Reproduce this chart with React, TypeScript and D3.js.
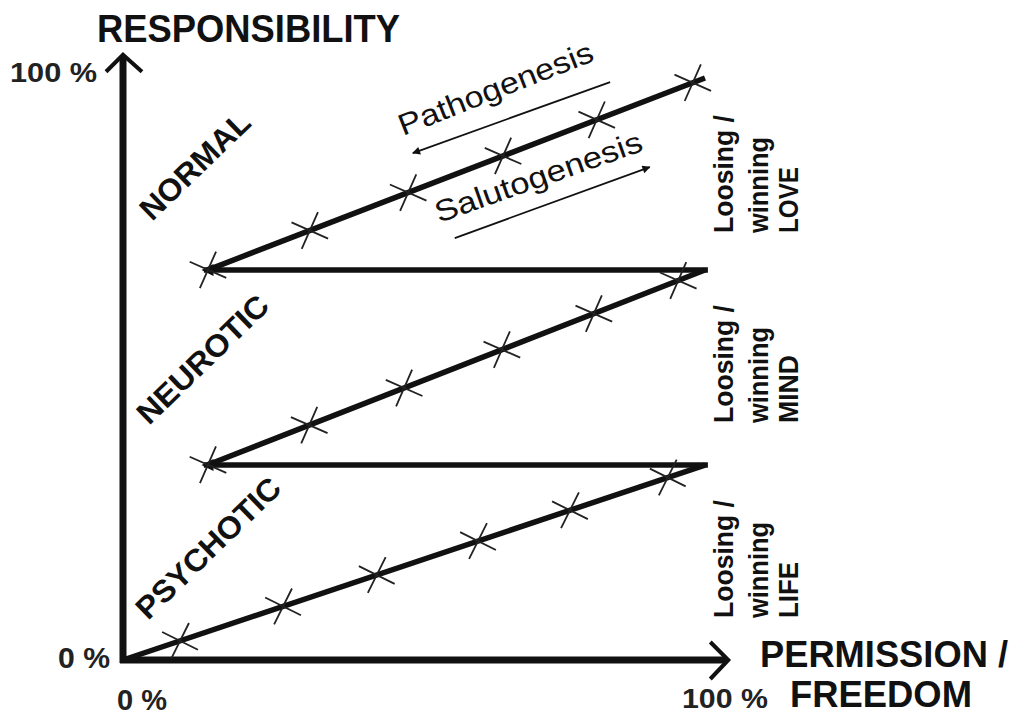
import React from "react";
import * as d3 from "d3";

// ---------- data (percent units) ----------
const LEVELS = [0, 33.5, 67, 100]; // responsibility levels where segments start/end
const DIAG_START_X = [0, 14.5, 14.5]; // permission/freedom where each rising segment starts
const DIAG_END_X = 100;
const CATEGORIES = ["PSYCHOTIC", "NEUROTIC", "NORMAL"];
const DOMAINS = ["LIFE", "MIND", "LOVE"];
const CROSS_X = [
  [9.8, 27.5, 43.6, 61, 76.8, 93.6],
  [14.6, 32, 48.3, 65.1, 80.9, 95.4],
  [14.6, 32.1, 49, 65.3, 81.4, 97.9],
];
const AXIS_TICKS = ["0 %", "100 %"];
const PATHO_ARROW = [[83.7, 99.3], [49.8, 87.1]];
const SALUTO_ARROW = [[57.0, 72.5], [90.5, 84.7]];
const AXIS_EXTENT = 104;

const FONT = "'Liberation Sans', Arial, Helvetica, sans-serif";

export default function App() {
  const W = 1013, H = 715;
  const x = d3.scaleLinear().domain([0, 100]).range([123, 705]);
  const y = d3.scaleLinear().domain([0, 100]).range([660, 78]);

  const diags = DIAG_START_X.map((x0, i) => ({
    x0, y0: LEVELS[i], x1: DIAG_END_X, y1: LEVELS[i + 1],
  }));
  const horiz = [1, 2].map((i) => ({ x0: DIAG_END_X, x1: DIAG_START_X[i], yv: LEVELS[i] }));

  const line = d3.line<number[]>().x((d) => x(d[0])).y((d) => y(d[1]));

  const crosses: { cx: number; cy: number; ang: number }[] = [];
  diags.forEach((dg, i) => {
    const ang = Math.atan2(y(dg.y1) - y(dg.y0), x(dg.x1) - x(dg.x0));
    CROSS_X[i].forEach((cxv) => {
      const t = (cxv - dg.x0) / (dg.x1 - dg.x0);
      crosses.push({ cx: x(cxv), cy: y(dg.y0 + t * (dg.y1 - dg.y0)), ang });
    });
  });
  const arm = 20;
  const crossPath = (c: { cx: number; cy: number; ang: number }) => {
    const a1 = c.ang + Math.PI / 4, a2 = c.ang - Math.PI / 4;
    return `M${c.cx - arm * Math.cos(a1)},${c.cy - arm * Math.sin(a1)}L${c.cx + arm * Math.cos(a1)},${c.cy + arm * Math.sin(a1)}` +
      `M${c.cx - arm * Math.cos(a2)},${c.cy - arm * Math.sin(a2)}L${c.cx + arm * Math.cos(a2)},${c.cy + arm * Math.sin(a2)}`;
  };

  const x0 = x(0), y0 = y(0), xEnd = x(AXIS_EXTENT), yEnd = y(AXIS_EXTENT);

  const catPos = [
    { px: 148, py: 621, len: 188 },
    { px: 149, py: 426, len: 170 },
    { px: 152, py: 222, len: 140 },
  ];
  const domainStartY = [618, 423, 233];
  const domainCols = [
    { dx: 733, txt: "Loosing /", len: 118 },
    { dx: 768, txt: "winning", len: 96 },
    { dx: 798, txt: null as string | null, len: 0 },
  ];
  const domainLen: Record<string, number> = { LIFE: 56, MIND: 68, LOVE: 66 };

  return (
    <svg width={W} height={H} style={{ position: "absolute", left: 0, top: 0, background: "#fff" }}
      fontFamily={FONT}>
      <defs>
        <marker id="ah" viewBox="0 0 10 10" refX="9" refY="5" markerWidth="11" markerHeight="8"
          markerUnits="userSpaceOnUse" orient="auto">
          <path d="M0,0L10,5L0,10z" fill="#111" />
        </marker>
        <marker id="bigah" viewBox="0 0 10 10" refX="8" refY="5" markerWidth="16" markerHeight="12"
          markerUnits="userSpaceOnUse" orient="auto">
          <path d="M0,0L10,5L0,10z" fill="#111" />
        </marker>
      </defs>

      {/* axes */}
      <line x1={x0} y1={y0 + 3} x2={x0} y2={yEnd + 2} stroke="#111" strokeWidth={7} />
      <line x1={x0 - 3} y1={y0} x2={xEnd - 2} y2={y0} stroke="#111" strokeWidth={7} />
      <path d={`M${x0 - 17},${yEnd + 17}L${x0},${yEnd}L${x0 + 19},${yEnd + 17}`} fill="none" stroke="#111"
        strokeWidth={4} strokeLinejoin="miter" />
      <path d={`M${xEnd - 18},${y0 - 18}L${xEnd},${y0}L${xEnd - 18},${y0 + 19}`} fill="none" stroke="#111"
        strokeWidth={4} strokeLinejoin="miter" />

      {/* zig-zag */}
      {diags.map((d, i) => (
        <path key={"d" + i} d={line([[d.x0, d.y0], [d.x1, d.y1]]) || ""} stroke="#111" strokeWidth={5.5} fill="none" />
      ))}
      {horiz.map((h, i) => (
        <path key={"h" + i} d={line([[h.x0 + 0.5, h.yv], [h.x1 - 0.6, h.yv]]) || ""} stroke="#111" strokeWidth={5.5}
          fill="none" markerEnd="url(#bigah)" />
      ))}
      {crosses.map((c, i) => (
        <path key={"c" + i} d={crossPath(c)} stroke="#222" strokeWidth={1.8} fill="none" />
      ))}

      {/* genesis arrows */}
      <path d={line(PATHO_ARROW) || ""} stroke="#111" strokeWidth={1.8} fill="none" markerEnd="url(#ah)" />
      <path d={line(SALUTO_ARROW) || ""} stroke="#111" strokeWidth={1.8} fill="none" markerEnd="url(#ah)" />
      <text transform="translate(403,136) rotate(-21.5)" fontSize={30} textLength={207} lengthAdjust="spacingAndGlyphs"
        fill="#111">Pathogenesis</text>
      <text transform="translate(439,223) rotate(-19.5)" fontSize={30} textLength={218} lengthAdjust="spacingAndGlyphs"
        fill="#111">Salutogenesis</text>

      {/* axis titles & ticks */}
      <text x={97} y={42} fontSize={38} fontWeight="bold" textLength={303} lengthAdjust="spacingAndGlyphs"
        fill="#111">RESPONSIBILITY</text>
      <text x={10} y={82} fontSize={27} fontWeight="bold" textLength={87} lengthAdjust="spacingAndGlyphs"
        fill="#222">{AXIS_TICKS[1]}</text>
      <text x={58} y={668} fontSize={29} fontWeight="bold" textLength={52} lengthAdjust="spacingAndGlyphs"
        fill="#222">{AXIS_TICKS[0]}</text>
      <text x={117} y={710} fontSize={29} fontWeight="bold" textLength={50} lengthAdjust="spacingAndGlyphs"
        fill="#222">{AXIS_TICKS[0]}</text>
      <text x={682} y={708} fontSize={28} fontWeight="bold" textLength={86} lengthAdjust="spacingAndGlyphs"
        fill="#222">{AXIS_TICKS[1]}</text>
      <text x={760} y={667} fontSize={36} fontWeight="bold" textLength={248} lengthAdjust="spacingAndGlyphs"
        fill="#111">PERMISSION /</text>
      <text x={790} y={707} fontSize={36} fontWeight="bold" textLength={182} lengthAdjust="spacingAndGlyphs"
        fill="#111">FREEDOM</text>

      {/* categories */}
      {CATEGORIES.map((c, i) => (
        <text key={c} transform={`translate(${catPos[i].px},${catPos[i].py}) rotate(-44)`} fontSize={31}
          fontWeight="bold" fill="#111" textLength={catPos[i].len} lengthAdjust="spacingAndGlyphs">{c}</text>
      ))}

      {/* domain labels */}
      {DOMAINS.map((dm, i) =>
        domainCols.map((col, j) => (
          <text key={dm + j} transform={`translate(${col.dx},${domainStartY[i]}) rotate(-90)`} fontSize={27}
            fontWeight="bold" fill="#111" textLength={col.txt ? col.len : domainLen[dm]}
            lengthAdjust="spacingAndGlyphs">{col.txt ?? dm}</text>
        ))
      )}
    </svg>
  );
}
